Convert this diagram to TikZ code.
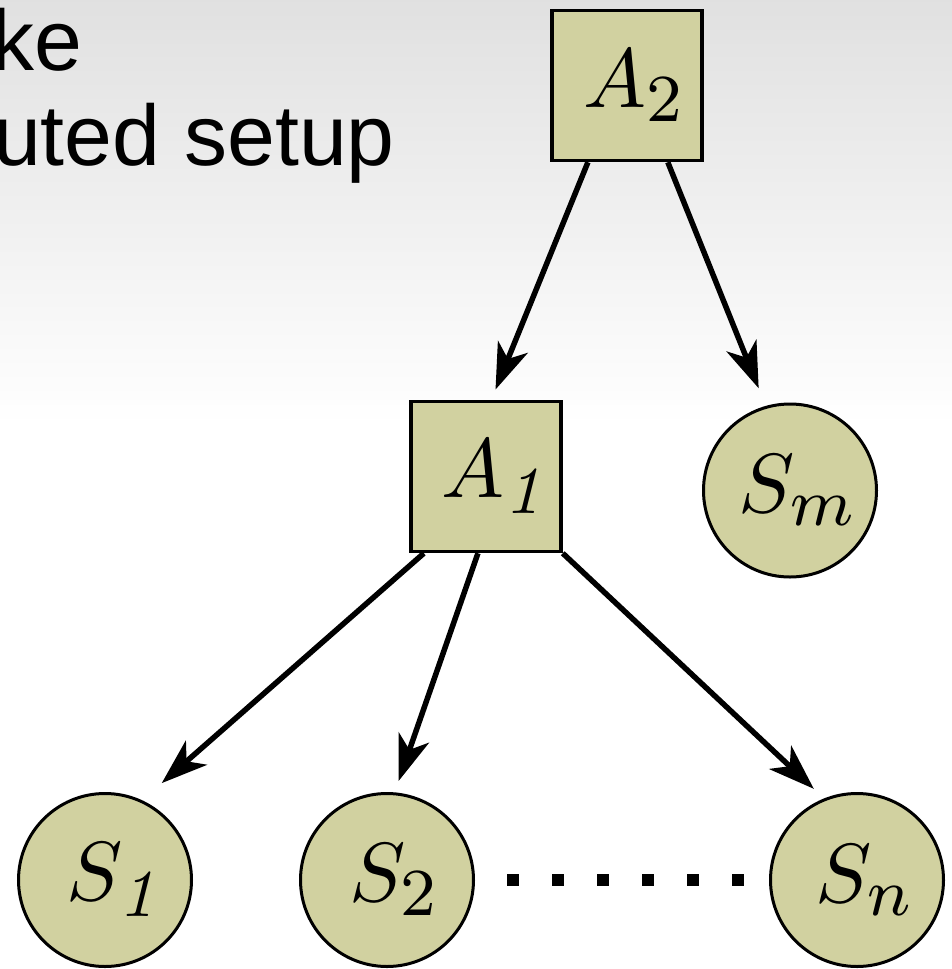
\documentclass[tikz,border=0pt]{standalone}
\usepackage{fontspec}
\newfontfamily\slidefont{Liberation Sans}
\usetikzlibrary{arrows.meta}
\DeclareMathSizes{10}{10}{8}{6}
\definecolor{nodefill}{RGB}{209,209,160}
\newcommand\biglabel[1]{\hspace*{16pt}\scalebox{8.4}{\fontsize{10}{12}\selectfont$#1$}}
\newcommand\slidetext{\slidefont\fontsize{86}{95}\selectfont}

\begin{document}
\begin{tikzpicture}[x=1pt,y=-1pt,
  agent/.style={draw,line width=3.5pt,fill=nodefill,minimum size=150pt,inner sep=0pt},
  store/.style={draw,circle,line width=3pt,fill=nodefill,minimum size=173pt,inner sep=0pt},
  link/.style={line width=5.5pt,-{Stealth[length=46pt,width=32pt,inset=13pt]}}]
\useasboundingbox (0,0) rectangle (952,969);
\shade[top color=black!12,bottom color=white] (0,0) rectangle (952,425);

% slide title, cut off on the left
\node[anchor=base east,inner sep=0pt,font=\slidetext] (t1) at (83,70) {ke};
\node[anchor=base east,inner sep=0pt,font=\slidetext] (t2) at (395,165) {uted setup};

% agents
\node[agent] (A2) at (627,85.5) {\biglabel{A_2}};
\node[agent] (A1) at (486,476.5) {\biglabel{A_{\mathit{1}}}};

% stores
\node[store] (Sm) at (790,490.5) {\biglabel{S_m}};
\node[store] (S1) at (105,880) {\biglabel{S_{\mathit{1}}}};
\node[store] (S2) at (387,880) {\biglabel{S_2}};
\node[store] (Sn) at (857,880) {\biglabel{S_n}};

\draw[link,shorten >=11pt] (A2.243) -- (A1.86);
\draw[link,shorten >=19pt] (A2.298) -- (Sm.106);
\draw[link,shorten >=26pt] (A1.231) -- (S1.65);
\draw[link,shorten >=12pt] (A1.264) -- (S2.85);
\draw[link,shorten >=14pt] (A1.south east) -- (Sn.112);

% dots between S2 and Sn
\draw[line width=12pt,dash pattern=on 12pt off 33pt,shorten <=32pt,shorten >=23pt] (S2.east) -- (Sn.west);
\end{tikzpicture}
\end{document}
